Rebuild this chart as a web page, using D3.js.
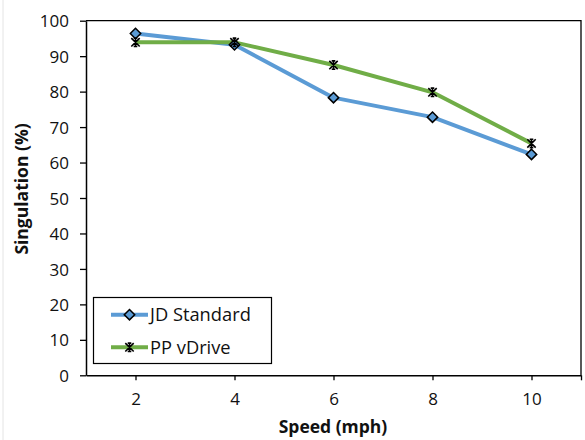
<!DOCTYPE html>
<html>
<head>
<meta charset="UTF-8">
<title>Singulation vs speed</title>
<script src="https://cdn.jsdelivr.net/npm/d3@7"></script>
<style>
  body { margin: 0; background: #fff; }
  text { font-family: "Open Sans", "Noto Sans", sans-serif; fill: #111; }
</style>
</head>
<body>
<script>
var speeds = [2, 4, 6, 8, 10];
var jdStandard = [96.4, 93.2, 78.3, 72.8, 62.3];
var ppVdrive = [93.9, 93.9, 87.5, 79.8, 65.4];
var xTicks = [2, 4, 6, 8, 10];
var yTicks = [0, 10, 20, 30, 40, 50, 60, 70, 80, 90, 100];
var seriesNames = ["JD Standard", "PP vDrive"];

var width = 585, height = 440;
var plotLeft = 86, plotRight = 581, plotTop = 20.7, plotBottom = 375.3;

var svg = d3.select("body").append("svg")
  .attr("width", width)
  .attr("height", height);

// faint page edge on the left
svg.append("line")
  .attr("x1", 3).attr("x2", 3).attr("y1", 0).attr("y2", height)
  .attr("stroke", "#e4e4e4").attr("stroke-width", 1);

var x = d3.scaleLinear().domain([1, 11]).range([plotLeft, plotRight]);
var y = d3.scaleLinear().domain([0, 100]).range([plotBottom, plotTop]);

// plot frame (top + right)
svg.append("path")
  .attr("d", "M" + plotLeft + "," + plotTop + "H" + plotRight + "V" + plotBottom)
  .attr("fill", "none").attr("stroke", "#000").attr("stroke-width", 1.3);

// y axis
var yAxis = svg.append("g")
  .attr("transform", "translate(" + plotLeft + ",0)")
  .call(d3.axisLeft(y).tickValues(yTicks).tickSize(6).tickSizeOuter(0).tickPadding(11));
yAxis.select(".domain").attr("stroke-width", 1.5);
yAxis.selectAll(".tick line").attr("stroke-width", 1.3);
yAxis.selectAll(".tick text").style("font-size", "17px").attr("dy", "0.36em");

// x axis
var xAxis = svg.append("g")
  .attr("transform", "translate(0," + plotBottom + ")")
  .call(d3.axisBottom(x).tickValues(xTicks.concat([11])).tickSize(5).tickSizeOuter(0).tickPadding(13)
    .tickFormat(function (d) { return d === 11 ? "" : d; }));
xAxis.select(".domain").attr("stroke-width", 1.5);
xAxis.selectAll(".tick line").attr("stroke-width", 1.3);
xAxis.selectAll(".tick text").style("font-size", "17px");

// axis titles
svg.append("text")
  .attr("x", 333).attr("y", 433)
  .attr("text-anchor", "middle")
  .style("font-size", "17.5px").style("font-weight", "bold")
  .text("Speed (mph)");

svg.append("text")
  .attr("transform", "translate(28,189) rotate(-90)")
  .attr("text-anchor", "middle")
  .style("font-size", "17.5px").style("font-weight", "bold")
  .text("Singulation (%)");

var colors = ["#5b9bd5", "#70ad47"];
var series = [jdStandard, ppVdrive];

var line = d3.line()
  .x(function (d, i) { return x(speeds[i]); })
  .y(function (d) { return y(d); });

function diamond(g, cx, cy) {
  var r = 5.2;
  g.append("path")
    .attr("d", "M" + cx + "," + (cy - r) + "L" + (cx + r) + "," + cy + "L" + cx + "," + (cy + r) + "L" + (cx - r) + "," + cy + "Z")
    .attr("fill", colors[0]).attr("stroke", "#000").attr("stroke-width", 1.5);
}

function star(g, cx, cy) {
  var r = 4.2, b = 1.8;
  g.append("path")
    .attr("d", "M" + (cx - r) + "," + (cy - r) + "L" + (cx + r) + "," + (cy + r) +
      "M" + (cx - r) + "," + (cy + r) + "L" + (cx + r) + "," + (cy - r) +
      "M" + cx + "," + (cy - r - 0.6) + "L" + cx + "," + (cy + r + 0.6) +
      "M" + (cx - b) + "," + (cy - r) + "H" + (cx + b) +
      "M" + (cx - b) + "," + (cy + r) + "H" + (cx + b))
    .attr("fill", "none").attr("stroke", "#000").attr("stroke-width", 1.6);
}

var markers = [diamond, star];

series.forEach(function (vals, s) {
  svg.append("path")
    .datum(vals)
    .attr("d", line)
    .attr("fill", "none")
    .attr("stroke", colors[s])
    .attr("stroke-width", 4)
    .attr("stroke-linejoin", "round");
});
series.forEach(function (vals, s) {
  var g = svg.append("g");
  vals.forEach(function (v, i) {
    markers[s](g, x(speeds[i]), y(v));
  });
});

// legend
var lg = svg.append("g");
lg.append("rect")
  .attr("x", 93.5).attr("y", 297.5).attr("width", 178).attr("height", 66)
  .attr("fill", "#fff").attr("stroke", "#000").attr("stroke-width", 1.2);
seriesNames.forEach(function (name, i) {
  var cy = 314.7 + i * 32.6;
  lg.append("line")
    .attr("x1", 111).attr("x2", 148).attr("y1", cy).attr("y2", cy)
    .attr("stroke", colors[i]).attr("stroke-width", 4);
  markers[i](lg, 129.5, cy);
  lg.append("text")
    .attr("x", 150).attr("y", cy + 6.5)
    .style("font-size", "18.3px")
    .text(name);
});
</script>
</body>
</html>
